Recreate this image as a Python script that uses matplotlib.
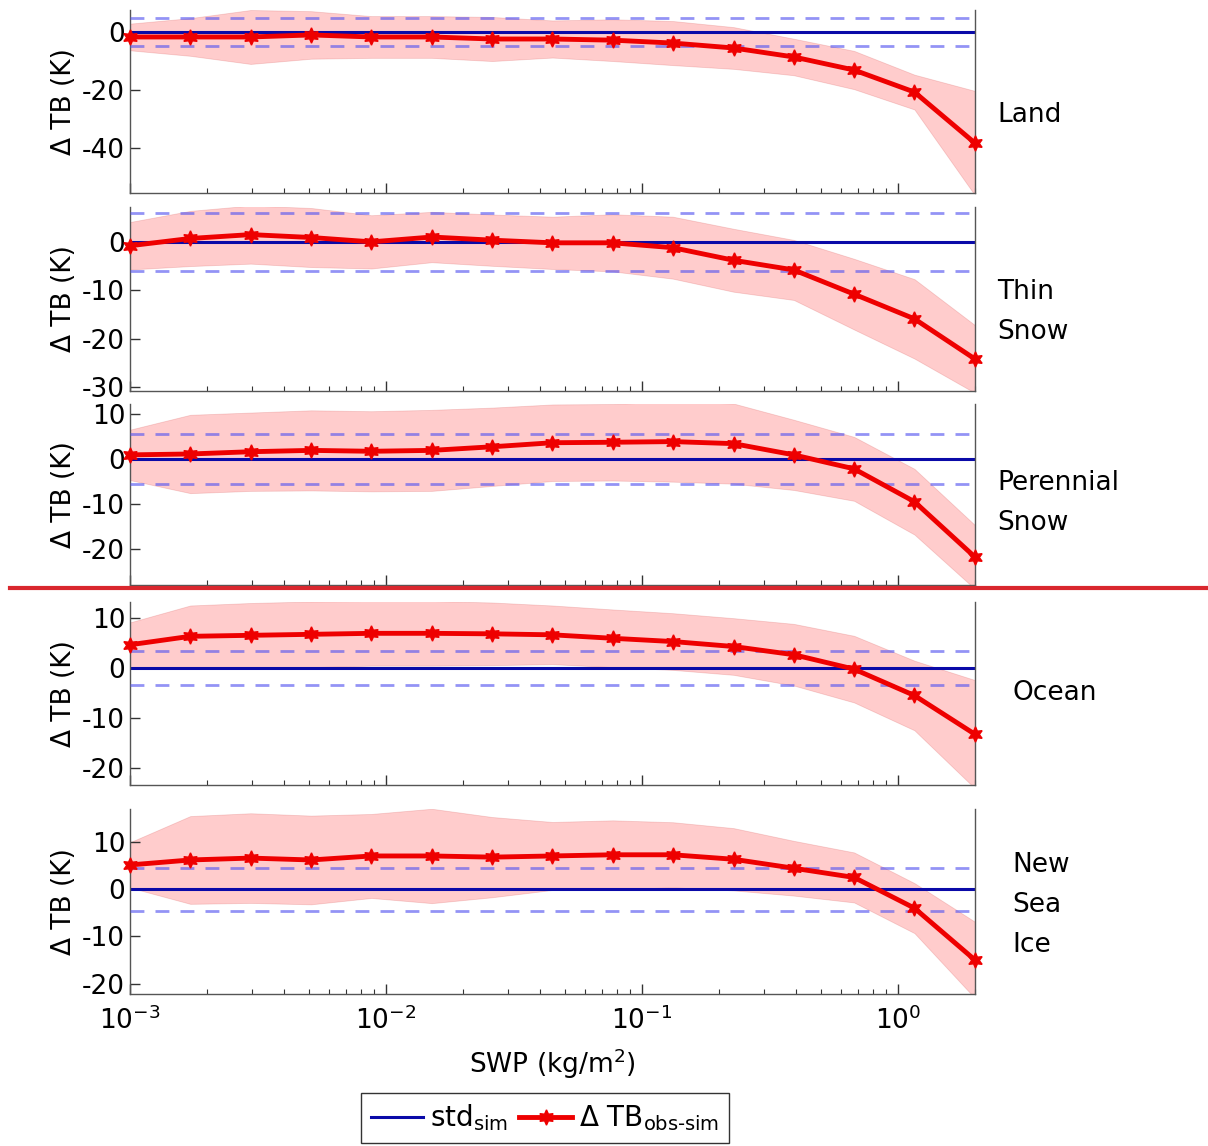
import numpy as np
import matplotlib
matplotlib.use("Agg")
import matplotlib.pyplot as plt
from matplotlib.lines import Line2D
from matplotlib.ticker import LogLocator, NullFormatter, FixedLocator

plt.rcParams['font.family'] = ['DejaVu Sans']
plt.rcParams['axes.unicode_minus'] = False

# SWP bin centres (kg/m^2)
swp = [0.001, 0.00172, 0.00296, 0.0051, 0.00877, 0.0151, 0.026, 0.0447,
       0.0769, 0.132, 0.228, 0.392, 0.674, 1.16, 2.0]

surfaces = ["Land", "Thin\nSnow", "Perennial\nSnow", "Ocean", "New\nSea\nIce"]

# mean obs-sim TB difference (K)
land_dtb = [-1.7, -1.7, -1.7, -1.0, -1.7, -1.7, -2.4, -2.4, -2.8, -3.8, -5.5, -8.6, -13.1, -20.7, -38.3]
thin_dtb = [-0.8, 0.7, 1.5, 0.9, 0.0, 1.0, 0.35, -0.2, -0.2, -1.2, -3.8, -5.8, -10.8, -15.9, -24.2]
peren_dtb = [0.9, 1.1, 1.6, 1.9, 1.7, 1.9, 2.7, 3.6, 3.7, 3.85, 3.4, 0.9, -2.2, -9.5, -21.8]
ocean_dtb = [4.7, 6.4, 6.6, 6.8, 7.0, 7.0, 6.9, 6.7, 6.0, 5.35, 4.35, 2.7, -0.2, -5.5, -13.3]
ice_dtb = [5.15, 6.2, 6.6, 6.2, 7.05, 7.05, 6.8, 7.05, 7.3, 7.3, 6.35, 4.45, 2.5, -4.0, -15.0]

# spread (std) of obs-sim difference (K)
land_spread = [4.6, 6.5, 9.3, 8.2, 7.2, 7.2, 7.6, 6.4, 7.2, 7.6, 7.2, 6.3, 6.6, 6.0, 18.0]
thin_spread = [4.9, 5.7, 6.0, 6.1, 5.5, 5.2, 5.3, 5.4, 5.9, 6.4, 6.5, 6.2, 7.3, 8.2, 7.0]
peren_spread = [5.6, 8.7, 8.7, 8.9, 8.9, 9.0, 8.7, 8.5, 8.5, 8.9, 8.9, 7.8, 7.1, 7.3, 7.1]
ocean_spread = [4.5, 6.2, 6.5, 6.6, 6.5, 6.5, 6.3, 5.9, 5.8, 5.7, 5.7, 6.2, 6.7, 7.0, 10.9]
ice_spread = [4.8, 9.3, 9.5, 9.4, 8.9, 10.0, 8.5, 7.2, 7.3, 6.9, 6.6, 5.8, 5.3, 5.3, 8.1]

# simulation std (K) per surface
std_sim = [4.8, 6.0, 5.6, 3.35, 4.6]

ylims = [(-55.5, 7.6), (-30.8, 7.2), (-28, 12.2), (-23.5, 13.3), (-22.2, 17)]
yticks = [[-40, -20, 0], [-30, -20, -10, 0], [-20, -10, 0, 10],
          [-20, -10, 0, 10], [-20, -10, 0, 10]]

dtbs = [land_dtb, thin_dtb, peren_dtb, ocean_dtb, ice_dtb]
spreads = [land_spread, thin_spread, peren_spread, ocean_spread, ice_spread]

# panel pixel extents (top, bottom) and label positions
W, H = 1208, 1146
panels = [(10, 193), (207, 391), (404, 585), (602, 785), (809, 994)]
label_x = [1.026, 1.026, 1.026, 1.044, 1.044]
label_y = [0.426, 0.43, 0.453, 0.503, 0.48]

fs = 19
fig = plt.figure(figsize=(W / 100, H / 100), dpi=100)

axes = []
for i, (top, bot) in enumerate(panels):
    ax = fig.add_axes([130 / W, 1 - bot / H, 845 / W, (bot - top) / H])
    axes.append(ax)
    x = np.array(swp)
    y = np.array(dtbs[i])
    s = np.array(spreads[i])

    ax.fill_between(x, y - s, y + s, facecolor=(1, 0, 0), alpha=0.2,
                    edgecolor=(0.8, 0.2, 0.2), linewidth=0.6, zorder=1)
    ax.axhline(0, color='#0a0aa8', lw=2.2, zorder=2)
    for sgn in (1, -1):
        ax.axhline(sgn * std_sim[i], color='#5a5af0', alpha=0.65, lw=2,
                   dashes=(5, 4), zorder=3)
    ax.plot(x, y, color='#ee0000', lw=3.5, marker=(6, 1, 0), ms=11,
            zorder=4, clip_on=False)

    ax.set_xscale('log')
    ax.set_xlim(1e-3, 2.0)
    ax.set_ylim(*ylims[i])
    ax.yaxis.set_major_locator(FixedLocator(yticks[i]))
    ax.xaxis.set_major_locator(LogLocator(base=10, numticks=10))
    ax.xaxis.set_minor_locator(LogLocator(base=10, subs=np.arange(2, 10), numticks=10))
    ax.xaxis.set_minor_formatter(NullFormatter())
    ax.tick_params(which='both', direction='in', top=False, right=False,
                   labelsize=fs, color='#333333')
    ax.tick_params(which='major', length=7, width=1)
    ax.tick_params(which='minor', length=3.5, width=0.8)
    ax.tick_params(axis='x', pad=9)
    if i < len(panels) - 1:
        ax.tick_params(axis='x', labelbottom=False)
    ax.spines['top'].set_visible(False)
    for sp in ('left', 'bottom', 'right'):
        ax.spines[sp].set_color('#555555')
        ax.spines[sp].set_linewidth(1)
    ax.set_ylabel('Δ TB (K)', fontsize=fs)
    ax.text(label_x[i], label_y[i], surfaces[i], transform=ax.transAxes,
            fontsize=fs, ha='left', va='center', linespacing=1.7)

axes[-1].set_xlabel('SWP (kg/m$^2$)', fontsize=fs, labelpad=8)

# separator between land and ocean groups
fig.add_artist(Line2D([10 / W, 1.0], [1 - 588 / H] * 2, color='#d9272e',
                      lw=3, transform=fig.transFigure))

handles = [Line2D([], [], color='#0a0aa8', lw=2.2),
           Line2D([], [], color='#ee0000', lw=3.5, marker=(6, 1, 0), ms=11)]
labels = ['std$_{\\mathregular{sim}}$', 'Δ TB$_{\\mathregular{obs‐sim}}$']
fig.legend(handles, labels, loc='center', bbox_to_anchor=(545 / W, 1 - 1118 / H),
           ncol=2, fontsize=20, handlelength=1.9, handletextpad=0.25,
           columnspacing=0.4, borderpad=0.35, fancybox=False,
           edgecolor='#333333', framealpha=1)

fig.savefig('out.png', dpi=100)
